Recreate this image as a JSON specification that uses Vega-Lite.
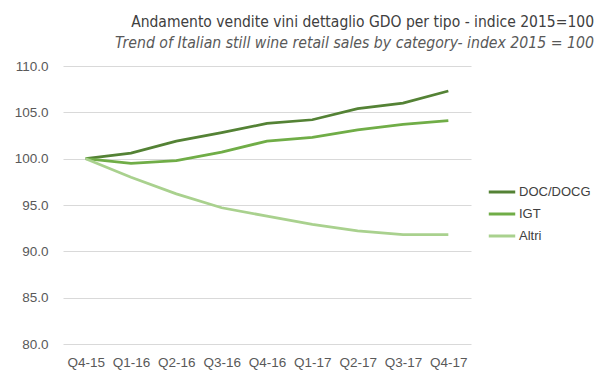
{
  "$schema": "https://vega.github.io/schema/vega-lite/v6.json",
  "width": 408,
  "height": 278,
  "autosize": {"type": "none"},
  "padding": {"left": 63, "top": 66, "right": 128, "bottom": 34},
  "background": "white",
  "config": {
    "view": {"stroke": null},
    "font": "Liberation Sans"
  },
  "title": {
    "text": "Andamento vendite vini dettaglio GDO per tipo - indice 2015=100",
    "subtitle": "Trend of Italian still wine retail sales by category- index 2015 = 100",
    "anchor": "end",
    "frame": "group",
    "dx": 123,
    "offset": 8,
    "font": "DejaVu Sans Condensed, sans-serif",
    "fontSize": 15.5,
    "fontWeight": "normal",
    "color": "#404040",
    "subtitleFont": "DejaVu Sans Condensed, sans-serif",
    "subtitleFontSize": 15.7,
    "subtitleFontStyle": "italic",
    "subtitleColor": "#595959",
    "subtitlePadding": 6
  },
  "data": {
    "values": [
      {"q": "Q4-15", "cat": "DOC/DOCG", "v": 100.0},
      {"q": "Q1-16", "cat": "DOC/DOCG", "v": 100.6},
      {"q": "Q2-16", "cat": "DOC/DOCG", "v": 101.9},
      {"q": "Q3-16", "cat": "DOC/DOCG", "v": 102.8},
      {"q": "Q4-16", "cat": "DOC/DOCG", "v": 103.8},
      {"q": "Q1-17", "cat": "DOC/DOCG", "v": 104.2},
      {"q": "Q2-17", "cat": "DOC/DOCG", "v": 105.4},
      {"q": "Q3-17", "cat": "DOC/DOCG", "v": 106.0},
      {"q": "Q4-17", "cat": "DOC/DOCG", "v": 107.3},
      {"q": "Q4-15", "cat": "IGT", "v": 100.0},
      {"q": "Q1-16", "cat": "IGT", "v": 99.5},
      {"q": "Q2-16", "cat": "IGT", "v": 99.8},
      {"q": "Q3-16", "cat": "IGT", "v": 100.7},
      {"q": "Q4-16", "cat": "IGT", "v": 101.9},
      {"q": "Q1-17", "cat": "IGT", "v": 102.3},
      {"q": "Q2-17", "cat": "IGT", "v": 103.1},
      {"q": "Q3-17", "cat": "IGT", "v": 103.7},
      {"q": "Q4-17", "cat": "IGT", "v": 104.1},
      {"q": "Q4-15", "cat": "Altri", "v": 100.0},
      {"q": "Q1-16", "cat": "Altri", "v": 98.0},
      {"q": "Q2-16", "cat": "Altri", "v": 96.2},
      {"q": "Q3-16", "cat": "Altri", "v": 94.7},
      {"q": "Q4-16", "cat": "Altri", "v": 93.8},
      {"q": "Q1-17", "cat": "Altri", "v": 92.9},
      {"q": "Q2-17", "cat": "Altri", "v": 92.2},
      {"q": "Q3-17", "cat": "Altri", "v": 91.8},
      {"q": "Q4-17", "cat": "Altri", "v": 91.8}
    ]
  },
  "mark": {"type": "line", "strokeWidth": 2.75, "interpolate": "linear"},
  "encoding": {
    "x": {
      "field": "q",
      "type": "ordinal",
      "sort": null,
      "scale": {"type": "point", "padding": 0.5},
      "axis": {
        "title": null,
        "labelAngle": 0,
        "ticks": false,
        "domain": false,
        "grid": false,
        "labelPadding": 11,
        "labelFontSize": 13.5,
        "labelColor": "#595959"
      }
    },
    "y": {
      "field": "v",
      "type": "quantitative",
      "scale": {"domain": [80, 110], "nice": false, "zero": false},
      "axis": {
        "title": null,
        "values": [80, 85, 90, 95, 100, 105, 110],
        "format": ".1f",
        "ticks": false,
        "domain": false,
        "grid": true,
        "gridColor": "#d9d9d9",
        "gridWidth": 1,
        "labelPadding": 15,
        "labelFontSize": 13.5,
        "labelColor": "#595959"
      }
    },
    "color": {
      "field": "cat",
      "type": "nominal",
      "sort": ["DOC/DOCG", "IGT", "Altri"],
      "scale": {"domain": ["DOC/DOCG", "IGT", "Altri"], "range": ["#548235", "#70ad47", "#a9d18e"]},
      "legend": {
        "title": null,
        "orient": "none",
        "legendX": 424,
        "legendY": 111,
        "symbolType": "stroke",
        "symbolSize": 700,
        "symbolStrokeWidth": 3,
        "labelFontSize": 13,
        "labelColor": "#404040",
        "rowPadding": -3,
        "labelOffset": 2
      }
    }
  }
}
